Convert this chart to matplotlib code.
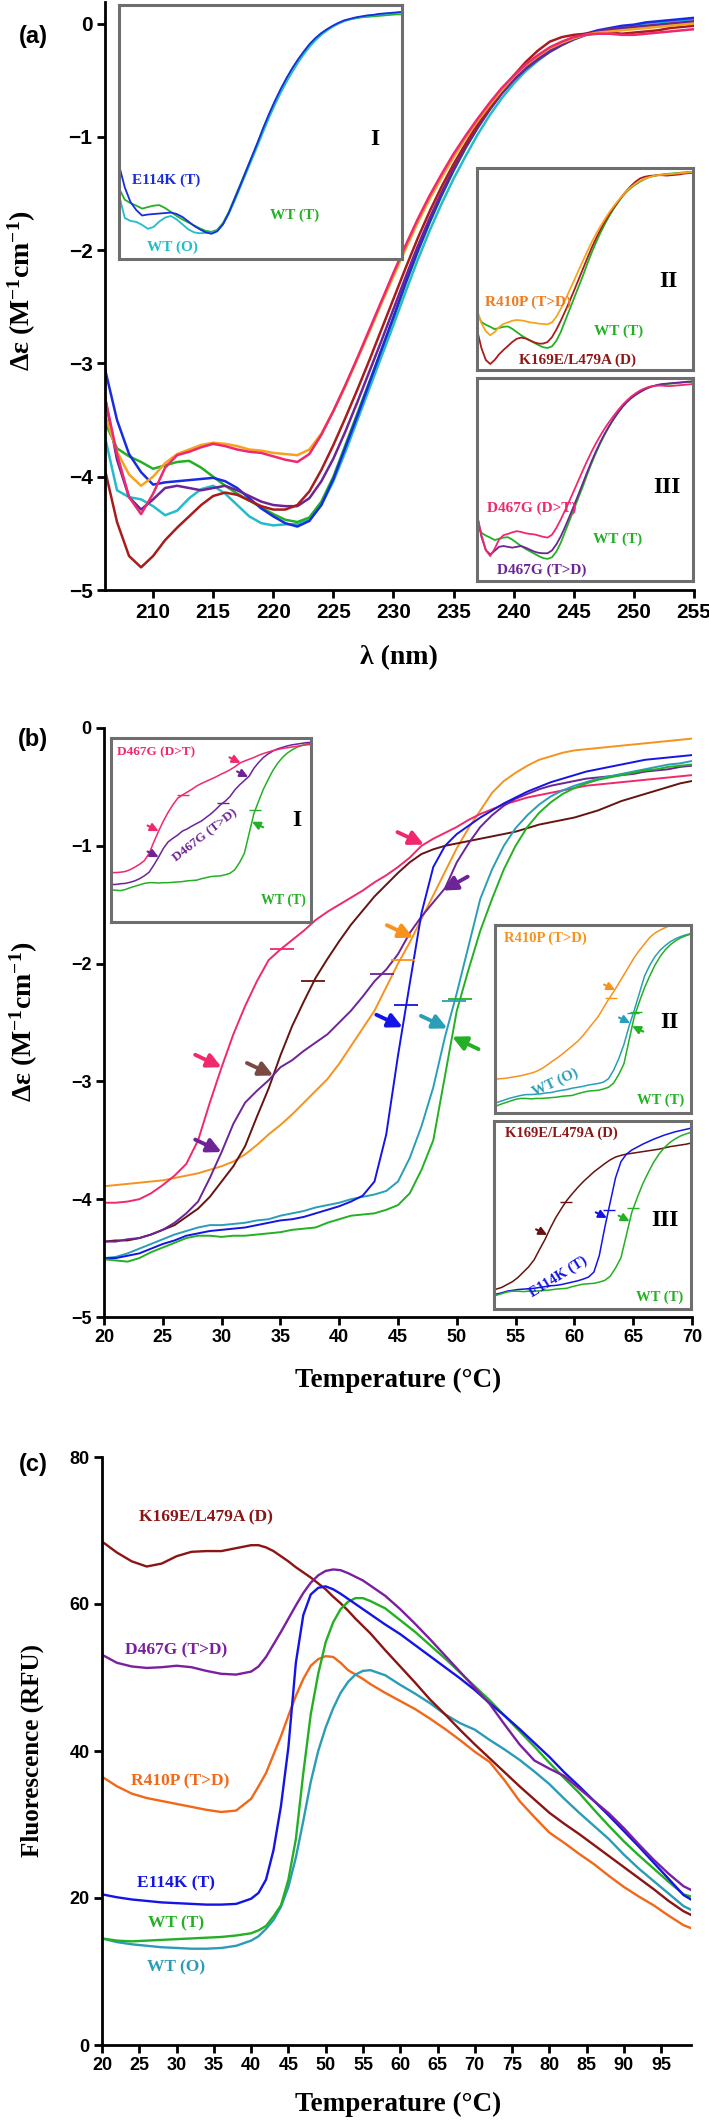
import numpy as np
import matplotlib.pyplot as plt

SANS = ['Liberation Sans Narrow', 'Liberation Sans', 'DejaVu Sans']
SERIF = ['Liberation Serif', 'DejaVu Serif']
plt.rcParams['font.family'] = SANS
plt.rcParams['font.weight'] = 'bold'
plt.rcParams['mathtext.fontset'] = 'custom'
plt.rcParams['mathtext.rm'] = 'Liberation Serif:bold'
plt.rcParams['mathtext.bf'] = 'Liberation Serif:bold'
plt.rcParams['mathtext.it'] = 'Liberation Serif:italic:bold'
plt.rcParams['mathtext.default'] = 'rm'

# -----------------------------
# 1. Data, panel (a): far-UV CD spectra
# -----------------------------
wl = np.arange(206, 256)

cd_wt_t = [-3.52, -3.75, -3.82, -3.87, -3.93, -3.90, -3.87, -3.86, -3.92, -4.00,
           -4.08, -4.15, -4.21, -4.27, -4.33, -4.38, -4.40, -4.36, -4.22, -4.00,
           -3.72, -3.44, -3.16, -2.88, -2.60, -2.30, -2.02, -1.76, -1.52, -1.30,
           -1.10, -0.92, -0.76, -0.61, -0.49, -0.39, -0.31, -0.24, -0.18, -0.13,
           -0.10, -0.08, -0.06, -0.05, -0.04, -0.03, -0.02, -0.01, 0.00, 0.00]
cd_wt_o = [-3.65, -4.12, -4.18, -4.20, -4.26, -4.34, -4.30, -4.19, -4.11, -4.08,
           -4.15, -4.25, -4.35, -4.41, -4.43, -4.42, -4.42, -4.38, -4.25, -4.04,
           -3.78, -3.50, -3.22, -2.94, -2.66, -2.37, -2.09, -1.83, -1.59, -1.37,
           -1.17, -0.98, -0.81, -0.66, -0.53, -0.42, -0.33, -0.25, -0.19, -0.14,
           -0.10, -0.07, -0.05, -0.03, -0.02, 0.00, 0.01, 0.02, 0.03, 0.04]
cd_e114k = [-3.05, -3.50, -3.80, -3.96, -4.07, -4.05, -4.04, -4.03, -4.02, -4.01,
            -4.04, -4.10, -4.19, -4.28, -4.35, -4.41, -4.44, -4.39, -4.25, -4.02,
            -3.74, -3.46, -3.17, -2.88, -2.59, -2.29, -2.01, -1.75, -1.51, -1.29,
            -1.09, -0.91, -0.75, -0.60, -0.48, -0.38, -0.30, -0.23, -0.17, -0.12,
            -0.09, -0.06, -0.04, -0.02, -0.01, 0.01, 0.02, 0.03, 0.04, 0.05]
cd_r410p = [-3.45, -3.78, -3.98, -4.08, -4.00, -3.88, -3.80, -3.76, -3.72, -3.70,
            -3.71, -3.73, -3.76, -3.77, -3.79, -3.80, -3.81, -3.76, -3.62, -3.42,
            -3.20, -2.96, -2.72, -2.47, -2.23, -1.99, -1.76, -1.55, -1.36, -1.18,
            -1.01, -0.86, -0.72, -0.59, -0.47, -0.37, -0.29, -0.22, -0.17, -0.13,
            -0.10, -0.08, -0.07, -0.06, -0.05, -0.04, -0.03, -0.02, -0.01, 0.00]
cd_d467g_dt = [-3.30, -3.80, -4.18, -4.33, -4.15, -3.92, -3.81, -3.78, -3.74, -3.71,
               -3.73, -3.76, -3.78, -3.79, -3.82, -3.85, -3.87, -3.80, -3.63, -3.42,
               -3.19, -2.95, -2.70, -2.45, -2.20, -1.96, -1.73, -1.52, -1.33, -1.15,
               -0.99, -0.84, -0.70, -0.57, -0.46, -0.36, -0.28, -0.21, -0.16, -0.12,
               -0.10, -0.09, -0.09, -0.10, -0.10, -0.09, -0.08, -0.07, -0.06, -0.05]
cd_d467g_td = [-3.30, -3.85, -4.18, -4.29, -4.20, -4.10, -4.08, -4.10, -4.12, -4.10,
               -4.08, -4.12, -4.17, -4.22, -4.25, -4.26, -4.26, -4.19, -4.04, -3.84,
               -3.60, -3.34, -3.07, -2.80, -2.52, -2.24, -1.97, -1.72, -1.49, -1.28,
               -1.09, -0.92, -0.76, -0.62, -0.50, -0.40, -0.32, -0.25, -0.19, -0.14,
               -0.10, -0.07, -0.05, -0.04, -0.03, -0.02, -0.01, 0.00, 0.01, 0.02]
cd_k169e = [-3.94, -4.40, -4.70, -4.80, -4.70, -4.56, -4.45, -4.35, -4.25, -4.17,
            -4.14, -4.16, -4.21, -4.26, -4.29, -4.29, -4.25, -4.13, -3.94, -3.72,
            -3.48, -3.23, -2.97, -2.70, -2.43, -2.16, -1.90, -1.66, -1.44, -1.24,
            -1.06, -0.89, -0.74, -0.59, -0.46, -0.34, -0.24, -0.16, -0.12, -0.10,
            -0.09, -0.08, -0.08, -0.09, -0.08, -0.07, -0.06, -0.04, -0.03, -0.02]

# -----------------------------
# 2. Data, panel (b): thermal melts
# -----------------------------
temp_b = np.arange(20, 71)

melt_d467g_dt = [-4.03, -4.03, -4.02, -4.00, -3.95, -3.88, -3.80, -3.70, -3.50, -3.18,
                 -2.88, -2.60, -2.36, -2.15, -1.97, -1.88, -1.80, -1.72, -1.63, -1.56,
                 -1.50, -1.44, -1.38, -1.31, -1.25, -1.18, -1.10, -1.00, -0.94, -0.89,
                 -0.84, -0.78, -0.73, -0.69, -0.65, -0.62, -0.59, -0.57, -0.55, -0.53,
                 -0.51, -0.49, -0.48, -0.47, -0.46, -0.45, -0.44, -0.43, -0.42, -0.41,
                 -0.40]
melt_d467g_td = [-4.36, -4.36, -4.34, -4.33, -4.30, -4.26, -4.20, -4.12, -4.02, -3.82,
                 -3.60, -3.36, -3.18, -3.08, -2.99, -2.88, -2.82, -2.74, -2.67, -2.60,
                 -2.50, -2.40, -2.28, -2.15, -2.05, -1.92, -1.74, -1.60, -1.48, -1.36,
                 -1.14, -0.98, -0.84, -0.74, -0.66, -0.60, -0.56, -0.52, -0.49, -0.47,
                 -0.45, -0.43, -0.42, -0.41, -0.40, -0.39, -0.37, -0.36, -0.35, -0.33,
                 -0.32]
melt_k169e = [-4.36, -4.35, -4.35, -4.33, -4.30, -4.26, -4.22, -4.15, -4.08, -3.98,
              -3.85, -3.72, -3.55, -3.30, -3.06, -2.78, -2.53, -2.32, -2.12, -1.96,
              -1.81, -1.67, -1.55, -1.43, -1.33, -1.23, -1.14, -1.07, -1.03, -1.00,
              -0.98, -0.96, -0.94, -0.92, -0.90, -0.88, -0.85, -0.82, -0.80, -0.78,
              -0.76, -0.73, -0.70, -0.66, -0.62, -0.59, -0.56, -0.53, -0.50, -0.47,
              -0.45]
melt_r410p = [-3.89, -3.88, -3.87, -3.86, -3.85, -3.84, -3.82, -3.80, -3.78, -3.75,
              -3.72, -3.68, -3.62, -3.54, -3.45, -3.37, -3.28, -3.18, -3.08, -2.98,
              -2.85, -2.70, -2.55, -2.40, -2.20, -2.00, -1.82, -1.62, -1.42, -1.22,
              -1.02, -0.85, -0.70, -0.55, -0.45, -0.38, -0.32, -0.27, -0.24, -0.21,
              -0.19, -0.18, -0.17, -0.16, -0.15, -0.14, -0.13, -0.12, -0.11, -0.10,
              -0.09]
melt_e114k = [-4.50, -4.50, -4.48, -4.46, -4.42, -4.38, -4.35, -4.31, -4.29, -4.27,
              -4.26, -4.25, -4.24, -4.22, -4.20, -4.18, -4.17, -4.15, -4.12, -4.09,
              -4.06, -4.02, -3.97, -3.85, -3.45, -2.78, -2.17, -1.57, -1.18, -1.00,
              -0.90, -0.83, -0.76, -0.70, -0.64, -0.59, -0.54, -0.50, -0.46, -0.43,
              -0.40, -0.37, -0.35, -0.33, -0.31, -0.29, -0.27, -0.26, -0.25, -0.24,
              -0.23]
melt_wt_o = [-4.50, -4.49, -4.46, -4.42, -4.38, -4.34, -4.30, -4.27, -4.24, -4.22,
             -4.22, -4.21, -4.20, -4.18, -4.17, -4.14, -4.12, -4.10, -4.07, -4.05,
             -4.03, -4.00, -3.98, -3.96, -3.93, -3.85, -3.65, -3.38, -3.05, -2.62,
             -2.25, -1.85, -1.45, -1.20, -1.00, -0.85, -0.74, -0.65, -0.58, -0.53,
             -0.49, -0.46, -0.43, -0.41, -0.39, -0.37, -0.35, -0.33, -0.31, -0.30,
             -0.28]
melt_wt_t = [-4.51, -4.52, -4.53, -4.50, -4.45, -4.41, -4.37, -4.33, -4.31, -4.31,
             -4.32, -4.31, -4.31, -4.30, -4.29, -4.28, -4.26, -4.25, -4.24, -4.20,
             -4.17, -4.14, -4.13, -4.12, -4.09, -4.05, -3.95, -3.75, -3.50, -2.95,
             -2.40, -2.05, -1.72, -1.45, -1.20, -1.00, -0.84, -0.72, -0.63, -0.56,
             -0.51, -0.47, -0.44, -0.42, -0.40, -0.38, -0.36, -0.35, -0.33, -0.32,
             -0.31]

# midpoint marks (T, value) and arrow tips (T, value)
tm_d467g_dt = (35.1, -1.88)
tm_k169e = (37.8, -2.15)
tm_d467g_td = (43.6, -2.09)
tm_r410p = (45.4, -1.97)
tm_e114k = (45.7, -2.35)
tm_wt_o = (49.8, -2.32)
tm_wt_t = (50.3, -2.30)

tip_d467g_dt = [(30.0, -2.88), (47.2, -0.99)]
tip_d467g_td = [(30.0, -3.60), (48.8, -1.38)]
tip_k169e = (34.4, -2.95)
tip_r410p = (46.3, -1.78)
tip_e114k = (45.4, -2.54)
tip_wt_o = (49.2, -2.55)
tip_wt_t = (49.6, -2.62)

# -----------------------------
# 3. Data, panel (c): thermal shift fluorescence
# -----------------------------
temp_c = [20, 22, 24, 26, 28, 30, 32, 34, 36, 38, 40,
          41, 42, 43, 44, 45, 46, 47, 48, 49, 50, 51, 52, 53, 54, 55, 56,
          58, 60, 62, 64, 66, 68, 70, 72, 74, 76, 78, 80, 82, 84, 86, 88,
          90, 92, 94, 96, 98, 99]

rfu_k169e = [68.5, 67.0, 65.8, 65.1, 65.5, 66.5, 67.1, 67.2, 67.2, 67.6, 68.0,
             68.0, 67.7, 67.2, 66.5, 65.8, 65.0, 64.3, 63.6, 62.8, 62.0, 61.0, 60.1, 59.1, 58.0, 57.0, 56.0,
             53.7, 51.5, 49.3, 47.0, 45.0, 42.9, 40.9, 39.0, 37.1, 35.2, 33.4, 31.6, 30.1, 28.7, 27.2, 25.7,
             24.2, 22.7, 21.2, 19.6, 18.2, 17.7]
rfu_d467g_td = [53.1, 52.0, 51.5, 51.3, 51.4, 51.6, 51.4, 50.9, 50.5, 50.4, 50.8,
                51.5, 52.8, 54.5, 56.2, 58.0, 59.8, 61.5, 62.9, 63.9, 64.5, 64.7, 64.6, 64.2, 63.7, 63.2, 62.5,
                61.1, 59.3, 57.3, 55.2, 53.0, 50.8, 48.6, 46.4, 43.6, 40.9, 38.7, 37.6, 36.6, 34.9, 33.2, 31.5,
                29.5, 27.3, 25.2, 23.3, 21.6, 21.1]
rfu_e114k = [20.5, 20.1, 19.8, 19.6, 19.4, 19.3, 19.2, 19.1, 19.1, 19.2, 19.9,
             20.7, 22.5, 26.5, 32.5, 40.5, 52.0, 58.5, 61.3, 62.2, 62.4, 62.0, 61.4, 60.7, 60.0, 59.3, 58.6,
             57.2, 55.9, 54.4, 52.9, 51.4, 49.9, 48.3, 46.5, 44.8, 43.0, 41.1, 39.2, 37.1, 35.2, 33.2, 31.2,
             29.1, 27.0, 24.8, 22.6, 20.4, 19.8]
rfu_wt_t = [14.5, 14.2, 14.1, 14.2, 14.3, 14.4, 14.5, 14.6, 14.7, 14.9, 15.2,
            15.6, 16.2, 17.5, 19.0, 22.5, 28.0, 37.0, 45.0, 50.5, 54.8, 57.5, 59.3, 60.3, 60.8, 60.8, 60.4,
            59.4, 57.8, 56.2, 54.4, 52.6, 50.7, 48.8, 46.9, 44.8, 42.7, 40.6, 38.4, 36.3, 34.3, 32.0, 29.8,
            27.7, 25.8, 24.0, 22.2, 20.5, 20.2]
rfu_wt_o = [14.5, 14.0, 13.7, 13.5, 13.3, 13.2, 13.1, 13.1, 13.2, 13.5, 14.2,
            14.8, 15.8, 17.0, 18.8, 21.5, 25.5, 30.5, 35.8, 40.0, 43.2, 45.8, 47.9, 49.4, 50.4, 50.9, 51.0,
            50.3, 49.0, 47.8, 46.5, 45.0, 43.8, 42.9, 41.5, 40.2, 38.8, 37.2, 35.5, 33.5, 31.6, 29.8, 28.0,
            25.9, 24.0, 22.3, 20.6, 18.9, 18.4]
rfu_r410p = [36.5, 35.2, 34.2, 33.6, 33.2, 32.8, 32.4, 32.0, 31.7, 31.9, 33.5,
             35.2, 37.0, 39.5, 42.0, 44.8, 47.5, 49.8, 51.6, 52.5, 52.9, 52.8, 52.0, 51.0, 50.4, 49.8, 49.1,
             47.9, 46.8, 45.7, 44.4, 43.0, 41.5, 39.9, 38.5, 36.0, 33.2, 31.0, 28.9, 27.5, 26.0, 24.6, 23.0,
             21.5, 20.2, 19.0, 17.6, 16.3, 15.9]

# -----------------------------
# 4. Colours
# -----------------------------
GREEN, CYAN, BLUE = '#24b024', '#22bccb', '#1a2ce0'
ORANGE, PINK, PURPLE, DRED = '#f5a320', '#f0286e', '#6c2496', '#a81c1c'
CYAN_B, BLUE_B, ORANGE_B, BROWN_B = '#2a9eb8', '#1414e6', '#f7921d', '#651410'
ORANGE_C, CYAN_C, DRED_C, PURPLE_C = '#f26818', '#2a9cb5', '#8b1414', '#7a1fa0'
LBL_ORANGE, LBL_DRED = '#f07a1c', '#8e1616'
BROWN_ARROW = '#7a4a42'
FRAME = '#6e6e6e'

# -----------------------------
# 5. Helpers
# -----------------------------
W, H = 709, 2120
fig = plt.figure(figsize=(7.09, 21.2), dpi=100)


def box(x0, y0, x1, y1):
    return [x0 / W, 1 - y1 / H, (x1 - x0) / W, (y1 - y0) / H]


def style_main(ax, fs):
    for s in ['top', 'right']:
        ax.spines[s].set_visible(False)
    for s in ['left', 'bottom']:
        ax.spines[s].set_linewidth(2)
    ax.tick_params(direction='out', length=6, width=2, labelsize=fs, pad=3)


def make_inset(rect, xlim, ylim):
    ax = fig.add_axes(rect, zorder=5)
    ax.set_facecolor('white')
    ax.set_xlim(*xlim)
    ax.set_ylim(*ylim)
    ax.set_xticks([])
    ax.set_yticks([])
    for s in ax.spines.values():
        s.set_color(FRAME)
        s.set_linewidth(2.2)
    return ax


def label(ax, x, y, s, color, fs=11, rot=0, ha='center'):
    ax.text(x, y, s, transform=ax.transAxes, color=color, fontsize=fs,
            family=SERIF, ha=ha, va='center', rotation=rot)


def arrow(ax, tip, off, color, lw=2.8, ms=14):
    ax.annotate('', xy=tip, xytext=off, textcoords='offset points',
                arrowprops=dict(arrowstyle='-|>,head_length=0.6,head_width=0.3',
                                color=color, lw=lw, mutation_scale=ms,
                                shrinkA=0, shrinkB=0))


def tm_mark(ax, pt, color, ms=17, mew=1.3):
    ax.plot([pt[0]], [pt[1]], ls='none', marker='_', ms=ms, mew=mew, color=color)


# -----------------------------
# 6. Panel (a)
# -----------------------------
ax_a = fig.add_axes(box(105, 2, 694, 590))
for y, c in [(cd_wt_o, CYAN), (cd_wt_t, GREEN), (cd_e114k, BLUE), (cd_d467g_td, PURPLE),
             (cd_k169e, DRED), (cd_r410p, ORANGE), (cd_d467g_dt, PINK)]:
    ax_a.plot(wl, y, color=c, lw=1.8)
ax_a.set_xlim(206, 255)
ax_a.set_ylim(-5, 0.19)
ax_a.set_xticks(np.arange(210, 256, 5))
ax_a.set_yticks(np.arange(-5, 1, 1))
style_main(ax_a, 15)

ins = make_inset(box(119, 5, 402, 259), (206, 255), (-4.95, 0.19))
for y, c in [(cd_wt_t, GREEN), (cd_wt_o, CYAN), (cd_e114k, BLUE)]:
    ins.plot(wl, y, color=c, lw=1.3)
label(ins, 0.046, 0.31, 'E114K (T)', BLUE, ha='left')
label(ins, 0.62, 0.173, 'WT (T)', GREEN)
label(ins, 0.19, 0.047, 'WT (O)', CYAN)
label(ins, 0.905, 0.47, 'I', 'black', fs=17)

ins = make_inset(box(477, 168, 693, 370), (206, 255), (-4.95, 0.1))
for y, c in [(cd_wt_t, GREEN), (cd_k169e, DRED), (cd_r410p, ORANGE)]:
    ins.plot(wl, y, color=c, lw=1.3)
label(ins, 0.236, 0.335, 'R410P (T>D)', LBL_ORANGE)
label(ins, 0.657, 0.193, 'WT (T)', GREEN)
label(ins, 0.463, 0.05, 'K169E/L479A (D)', LBL_DRED)
label(ins, 0.884, 0.436, 'II', 'black', fs=17)

ins = make_inset(box(477, 378, 693, 581), (206, 255), (-4.95, 0.1))
for y, c in [(cd_wt_t, GREEN), (cd_d467g_td, PURPLE), (cd_d467g_dt, PINK)]:
    ins.plot(wl, y, color=c, lw=1.3)
label(ins, 0.255, 0.36, 'D467G (D>T)', PINK)
label(ins, 0.65, 0.207, 'WT (T)', GREEN)
label(ins, 0.30, 0.054, 'D467G (T>D)', PURPLE)
label(ins, 0.88, 0.463, 'III', 'black', fs=17)

# -----------------------------
# 7. Panel (b)
# -----------------------------
ax_b = fig.add_axes(box(104, 728, 692, 1317))
series_b = [(melt_r410p, ORANGE_B), (melt_d467g_dt, PINK), (melt_k169e, BROWN_B),
            (melt_d467g_td, PURPLE), (melt_wt_o, CYAN_B), (melt_e114k, BLUE_B),
            (melt_wt_t, GREEN)]
for y, c in series_b:
    ax_b.plot(temp_b, y, color=c, lw=1.4)
ax_b.set_xlim(20, 70)
ax_b.set_ylim(-5, 0)
ax_b.set_xticks(np.arange(20, 71, 5))
ax_b.set_yticks(np.arange(-5, 1, 1))
style_main(ax_b, 13)

for pt, c in [(tm_d467g_dt, PINK), (tm_k169e, BROWN_B), (tm_d467g_td, PURPLE),
              (tm_r410p, ORANGE_B), (tm_e114k, BLUE_B), (tm_wt_o, CYAN_B), (tm_wt_t, GREEN)]:
    tm_mark(ax_b, pt, c)
UL, DR, UR = (-19, 9), (19, -9), (18, 10)
arrow(ax_b, tip_d467g_dt[0], UL, PINK)
arrow(ax_b, tip_d467g_dt[1], UL, PINK)
arrow(ax_b, tip_d467g_td[0], UL, PURPLE)
arrow(ax_b, tip_d467g_td[1], UR, PURPLE)
arrow(ax_b, tip_k169e, UL, BROWN_ARROW)
arrow(ax_b, tip_r410p, UL, ORANGE_B)
arrow(ax_b, tip_e114k, UL, BLUE_B)
arrow(ax_b, tip_wt_o, UL, CYAN_B)
arrow(ax_b, tip_wt_t, DR, GREEN)

sUL, sDR = (-8, 4), (8, -4)

ins = make_inset(box(111, 738, 311, 922), (20, 62), (-5.4, -0.3))
for y, c in [(melt_wt_t, GREEN), (melt_d467g_td, PURPLE), (melt_d467g_dt, PINK)]:
    ins.plot(temp_b, y, color=c, lw=1.1)
for pt, c in [(tm_d467g_dt, PINK), (tm_d467g_td, PURPLE), (tm_wt_t, GREEN)]:
    tm_mark(ins, pt, c, ms=8, mew=1)
for tip, c, off in [(tip_d467g_dt[0], PINK, sUL), (tip_d467g_dt[1], PINK, sUL),
                    (tip_d467g_td[0], PURPLE, sUL), (tip_d467g_td[1], PURPLE, sUL),
                    (tip_wt_t, GREEN, sDR)]:
    arrow(ins, tip, off, c, lw=1.5, ms=8)
label(ins, 0.03, 0.92, 'D467G (D>T)', PINK, fs=9.5, ha='left')
label(ins, 0.47, 0.47, 'D467G (T>D)', PURPLE, fs=9.5, rot=38)
label(ins, 0.86, 0.12, 'WT (T)', GREEN, fs=10)
label(ins, 0.93, 0.55, 'I', 'black', fs=17)

ins = make_inset(box(495, 925, 691, 1113), (23, 61), (-4.65, -0.26))
for y, c in [(melt_r410p, ORANGE_B), (melt_wt_o, CYAN_B), (melt_wt_t, GREEN)]:
    ins.plot(temp_b, y, color=c, lw=1.1)
for pt, c in [(tm_r410p, ORANGE_B), (tm_wt_o, CYAN_B), (tm_wt_t, GREEN)]:
    tm_mark(ins, pt, c, ms=8, mew=1)
for tip, c, off in [(tip_r410p, ORANGE_B, sUL), (tip_wt_o, CYAN_B, sUL), (tip_wt_t, GREEN, sDR)]:
    arrow(ins, tip, off, c, lw=1.5, ms=8)
label(ins, 0.255, 0.93, 'R410P (T>D)', ORANGE_B, fs=10.5)
label(ins, 0.306, 0.16, 'WT (O)', CYAN_B, fs=10.5, rot=25)
label(ins, 0.847, 0.07, 'WT (T)', GREEN, fs=10.5)
label(ins, 0.888, 0.484, 'II', 'black', fs=17)

ins = make_inset(box(494, 1121, 691, 1309), (24.6, 60.9), (-4.74, -0.2))
for y, c in [(melt_k169e, BROWN_B), (melt_e114k, BLUE_B), (melt_wt_t, GREEN)]:
    ins.plot(temp_b, y, color=c, lw=1.1)
for pt, c in [(tm_k169e, BROWN_B), (tm_e114k, BLUE_B), (tm_wt_t, GREEN)]:
    tm_mark(ins, pt, c, ms=8, mew=1)
for tip, c in [(tip_k169e, BROWN_B), (tip_e114k, BLUE_B), (tip_wt_t, GREEN)]:
    arrow(ins, tip, sUL, c, lw=1.5, ms=8)
label(ins, 0.34, 0.936, 'K169E/L479A (D)', LBL_DRED, fs=10.5)
label(ins, 0.325, 0.17, 'E114K (T)', BLUE_B, fs=10.5, rot=32)
label(ins, 0.843, 0.064, 'WT (T)', GREEN, fs=10.5)
label(ins, 0.868, 0.473, 'III', 'black', fs=17)

# -----------------------------
# 8. Panel (c)
# -----------------------------
ax_c = fig.add_axes(box(102, 1457, 691, 2045))
for y, c in [(rfu_r410p, ORANGE_C), (rfu_wt_o, CYAN_C), (rfu_k169e, DRED_C),
             (rfu_wt_t, GREEN), (rfu_e114k, BLUE_B), (rfu_d467g_td, PURPLE_C)]:
    ax_c.plot(temp_c, y, color=c, lw=1.7)
ax_c.set_xlim(20, 99)
ax_c.set_ylim(0, 80)
ax_c.set_xticks(np.arange(20, 96, 5))
ax_c.set_yticks(np.arange(0, 81, 20))
style_main(ax_c, 13)

for x, y, s, c in [(34.0, 71.8, 'K169E/L479A (D)', DRED_C),
                   (30.0, 53.7, 'D467G (T>D)', PURPLE_C),
                   (30.5, 35.8, 'R410P (T>D)', ORANGE_C),
                   (29.9, 22.0, 'E114K (T)', BLUE_B),
                   (30.0, 16.6, 'WT (T)', GREEN),
                   (30.0, 10.5, 'WT (O)', CYAN_C)]:
    ax_c.text(x, y, s, color=c, fontsize=12.5, family=SERIF, ha='center', va='center')

# -----------------------------
# 9. Axis titles and panel letters
# -----------------------------
de_label = r'Δε (M$^{-1}$cm$^{-1}$)'
fig.text(0.031, 0.863, de_label, rotation=90, ha='center', va='center', fontsize=20, family=SERIF)
fig.text(0.033, 0.518, de_label, rotation=90, ha='center', va='center', fontsize=20, family=SERIF)
fig.text(0.045, 0.1745, 'Fluorescence (RFU)', rotation=90, ha='center', va='center',
         fontsize=18, family=SERIF)
fig.text(0.562, 0.6896, 'λ (nm)', ha='center', va='center', fontsize=20, family=SERIF)
fig.text(0.562, 0.349, 'Temperature (°C)', ha='center', va='center', fontsize=19.5, family=SERIF)
fig.text(0.561, 0.0075, 'Temperature (°C)', ha='center', va='center', fontsize=19.5, family=SERIF)

for y, s in [(0.983, '(a)'), (0.651, '(b)'), (0.309, '(c)')]:
    fig.text(0.0465, y, s, ha='center', va='center', fontsize=17, family=['Liberation Sans', 'DejaVu Sans'])

fig.savefig('out.png', dpi=100)
